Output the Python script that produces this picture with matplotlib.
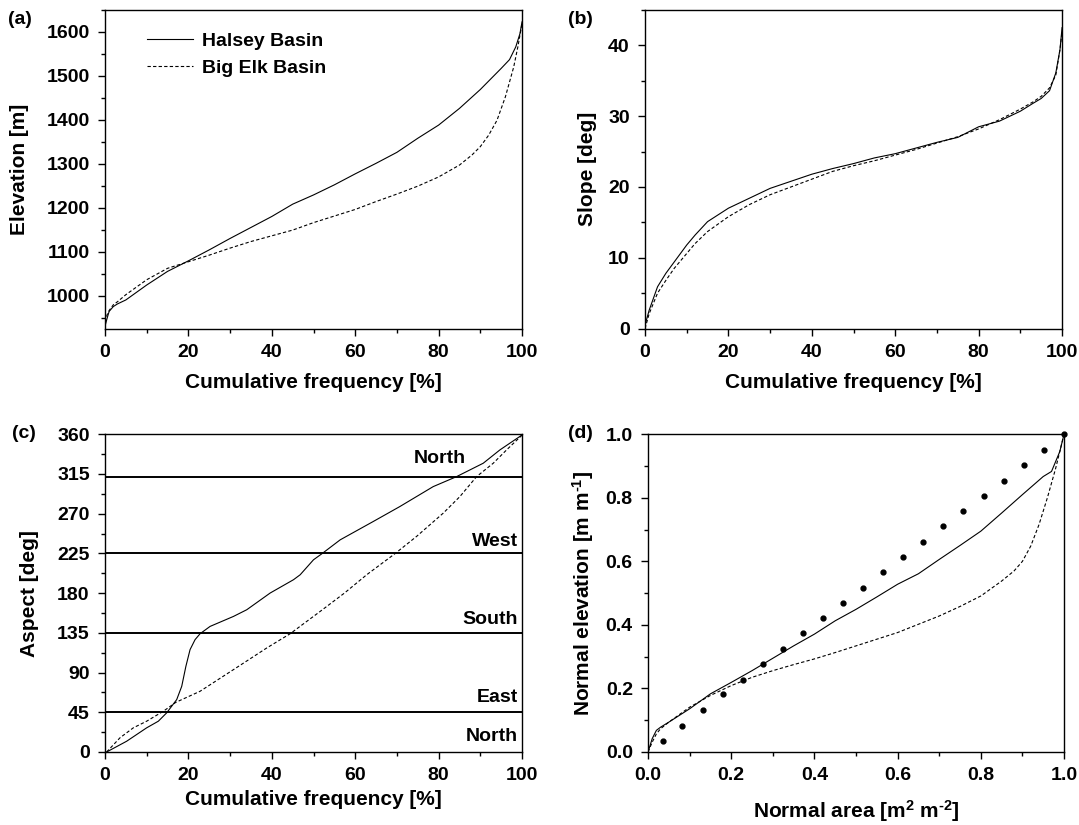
import matplotlib
matplotlib.use("Agg")
import matplotlib.pyplot as plt
from matplotlib.ticker import MultipleLocator

plt.rcParams['font.family'] = ['Liberation Sans', 'DejaVu Sans']
plt.rcParams['font.weight'] = 'bold'
plt.rcParams['axes.labelweight'] = 'bold'
plt.rcParams['mathtext.fontset'] = 'custom'
plt.rcParams['mathtext.rm'] = 'Liberation Sans:bold'
plt.rcParams['mathtext.bf'] = 'Liberation Sans:bold'
plt.rcParams['mathtext.default'] = 'bf'

# ---------------- data ----------------
# (a) elevation vs cumulative frequency
elev_x_halsey = [0, 0.5, 1, 2, 3, 5, 10, 15, 20, 25, 30, 35, 40, 45, 50, 55, 60, 65, 70,
                 75, 80, 85, 90, 95, 97, 98.5, 99.5, 100]
elev_halsey = [930, 948, 964, 975, 981, 990, 1024, 1055, 1079, 1104, 1130, 1155, 1180, 1208,
               1229, 1252, 1277, 1301, 1326, 1358, 1388, 1426, 1469, 1517, 1537, 1566, 1596, 1623]
elev_x_bigelk = [0, 0.5, 1, 2, 3, 5, 10, 15, 20, 25, 30, 35, 40, 45, 50, 55, 60, 65, 70, 75,
                 80, 85, 88, 90, 92, 94, 96, 98, 99, 100]
elev_bigelk = [940, 956, 966, 979, 986, 1002, 1036, 1062, 1077, 1092, 1108, 1123, 1136, 1149,
               1166, 1181, 1196, 1214, 1231, 1249, 1270, 1297, 1320, 1339, 1365, 1399, 1452,
               1520, 1566, 1619]

# (b) slope vs cumulative frequency
slope_x = [0, 1, 3, 5, 7, 10, 12, 15, 20, 25, 30, 35, 40, 45, 50, 55, 60, 65, 70, 75, 80,
           85, 90, 93, 95, 97, 98.5, 99.5, 100]
slope_halsey = [0.5, 2.6, 5.9, 7.8, 9.4, 11.8, 13.2, 15.1, 17.0, 18.4, 19.8, 20.8, 21.8, 22.6,
                23.3, 24.1, 24.7, 25.5, 26.3, 27.0, 28.5, 29.3, 30.7, 31.8, 32.5, 33.6, 36.1,
                39.4, 42.5]
slope_bigelk = [0, 2.1, 5.0, 6.8, 8.5, 10.6, 12.0, 13.7, 15.8, 17.5, 18.9, 20.0, 21.1, 22.2,
                23.0, 23.7, 24.5, 25.3, 26.2, 27.1, 28.2, 29.5, 31.0, 32.0, 32.8, 34.0, 35.8,
                39.4, 42.0]

# (c) aspect vs cumulative frequency
asp_x_halsey = [0.4, 5.2, 10.0, 12.8, 14.8, 17.2, 18.4, 19.4, 20.4, 21.6, 22.8, 25.2, 30.8,
                34.0, 39.6, 45.2, 46.8, 50.0, 52.0, 56.4, 64.3, 70.7, 78.7, 84.3, 90.7, 94.7, 100]
asp_halsey = [0, 12.2, 27.4, 34.9, 44.4, 59.4, 74.4, 97.1, 116, 127.3, 134, 142.3, 153.6,
              161.2, 180.1, 195.2, 200.8, 217.8, 224.6, 240.4, 261.1, 278.1, 300.7, 312,
              327.2, 342.3, 359.2]
asp_x_bigelk = [0.4, 3.6, 6.8, 10.0, 14.0, 17.0, 22.8, 30.8, 38.8, 44.4, 51.6, 57.4, 62.8,
                69.5, 74.7, 81.1, 85.1, 89.1, 93.1, 96.3, 100]
asp_bigelk = [0, 16.1, 27.4, 34.9, 46.2, 56.3, 68.8, 93.3, 117.9, 134, 159.3, 180, 201,
              224.6, 244.2, 270.6, 289.4, 312, 327.2, 342.3, 359]
dir_lines = [45, 135, 225, 311.5]
dir_names = ['North', 'East', 'South', 'West']
dir_name_y = [18, 62, 150, 239]

# (d) hypsometric curves
hyp_x = [0, 0.005, 0.01, 0.02, 0.03, 0.05, 0.1, 0.15, 0.2, 0.25, 0.3, 0.35, 0.4, 0.45, 0.5,
         0.55, 0.6, 0.65, 0.7, 0.75, 0.8, 0.85, 0.9, 0.95, 0.97, 0.99, 1.0]
hyp_halsey = [0, 0.021, 0.042, 0.068, 0.078, 0.094, 0.136, 0.183, 0.219, 0.256, 0.295, 0.334,
              0.371, 0.413, 0.449, 0.488, 0.528, 0.561, 0.606, 0.65, 0.695, 0.752, 0.81, 0.867,
              0.883, 0.946, 1.0]
hyp_x_bigelk = [0, 0.01, 0.02, 0.03, 0.05, 0.1, 0.15, 0.2, 0.25, 0.3, 0.35, 0.4, 0.45, 0.5,
                0.55, 0.6, 0.65, 0.7, 0.75, 0.8, 0.85, 0.88, 0.9, 0.92, 0.94, 0.96, 0.98, 1.0]
hyp_bigelk = [0, 0.031, 0.057, 0.073, 0.094, 0.141, 0.178, 0.209, 0.235, 0.256, 0.275, 0.293,
              0.313, 0.334, 0.355, 0.376, 0.402, 0.428, 0.458, 0.491, 0.538, 0.57, 0.60, 0.648,
              0.716, 0.80, 0.893, 1.0]
dots_x = [0.0355, 0.0825, 0.131, 0.18, 0.228, 0.276, 0.325, 0.372, 0.421, 0.469, 0.517,
          0.565, 0.614, 0.662, 0.71, 0.758, 0.807, 0.855, 0.903, 0.951, 1.0]
dots_y = [0.0345, 0.0825, 0.132, 0.181, 0.228, 0.276, 0.324, 0.373, 0.421, 0.468, 0.517,
          0.566, 0.613, 0.661, 0.71, 0.758, 0.807, 0.854, 0.903, 0.951, 1.0]

DASH = (0, (3, 2))
LW = 0.8
TICKFS = 14
LABFS = 15


def style_axis(ax):
    for sp in ax.spines.values():
        sp.set_linewidth(1.0)
    ax.tick_params(which='both', direction='out', top=False, right=False,
                   labelsize=TICKFS, width=1.0)
    ax.tick_params(which='major', length=5, pad=6)
    ax.tick_params(which='minor', length=3)


fig = plt.figure(figsize=(10.79, 8.25), dpi=100)
ax_a = fig.add_axes([0.0973, 0.6018, 0.3865, 0.3861])
ax_b = fig.add_axes([0.5978, 0.6018, 0.3865, 0.3861])
ax_c = fig.add_axes([0.0973, 0.0885, 0.3865, 0.3851])
ax_d = fig.add_axes([0.6006, 0.0885, 0.3855, 0.3851])

# (a)
ax_a.plot(elev_x_halsey, elev_halsey, color='black', lw=LW, label='Halsey Basin')
ax_a.plot(elev_x_bigelk, elev_bigelk, color='black', lw=LW, ls=DASH, label='Big Elk Basin')
ax_a.set_xlim(0, 100)
ax_a.set_ylim(925, 1650)
ax_a.xaxis.set_major_locator(MultipleLocator(20))
ax_a.xaxis.set_minor_locator(MultipleLocator(10))
ax_a.yaxis.set_major_locator(MultipleLocator(100))
ax_a.yaxis.set_minor_locator(MultipleLocator(50))
ax_a.set_xlabel('Cumulative frequency [%]', fontsize=LABFS)
ax_a.set_ylabel('Elevation [m]', fontsize=LABFS)
ax_a.legend(loc='upper left', bbox_to_anchor=(0.1, 0.93), frameon=False, fontsize=TICKFS,
            handlelength=2.4, handletextpad=0.45, labelspacing=0.5, borderpad=0,
            borderaxespad=0)

# (b)
ax_b.plot(slope_x, slope_halsey, color='black', lw=LW)
ax_b.plot(slope_x, slope_bigelk, color='black', lw=LW, ls=DASH)
ax_b.set_xlim(0, 100)
ax_b.set_ylim(0, 45)
ax_b.xaxis.set_major_locator(MultipleLocator(20))
ax_b.xaxis.set_minor_locator(MultipleLocator(10))
ax_b.yaxis.set_major_locator(MultipleLocator(10))
ax_b.yaxis.set_minor_locator(MultipleLocator(5))
ax_b.set_xlabel('Cumulative frequency [%]', fontsize=LABFS)
ax_b.set_ylabel('Slope [deg]', fontsize=LABFS)

# (c)
ax_c.plot(asp_x_halsey, asp_halsey, color='black', lw=LW)
ax_c.plot(asp_x_bigelk, asp_bigelk, color='black', lw=LW, ls=DASH)
for yv in dir_lines:
    ax_c.axhline(yv, color='black', lw=1.4)
for name, yv in zip(dir_names, dir_name_y):
    ax_c.text(99, yv, name, ha='right', va='center', fontsize=TICKFS, fontweight='bold')
ax_c.text(80.3, 332, 'North', ha='center', va='center', fontsize=TICKFS, fontweight='bold')
ax_c.set_xlim(0, 100)
ax_c.set_ylim(0, 360)
ax_c.xaxis.set_major_locator(MultipleLocator(20))
ax_c.xaxis.set_minor_locator(MultipleLocator(10))
ax_c.yaxis.set_major_locator(MultipleLocator(45))
ax_c.yaxis.set_minor_locator(MultipleLocator(22.5))
ax_c.set_xlabel('Cumulative frequency [%]', fontsize=LABFS)
ax_c.set_ylabel('Aspect [deg]', fontsize=LABFS)

# (d)
ax_d.plot(hyp_x, hyp_halsey, color='black', lw=LW)
ax_d.plot(hyp_x_bigelk, hyp_bigelk, color='black', lw=LW, ls=DASH)
ax_d.plot(dots_x, dots_y, 'o', color='black', ms=3.5, clip_on=False)
ax_d.set_xlim(0, 1)
ax_d.set_ylim(0, 1)
ax_d.xaxis.set_major_locator(MultipleLocator(0.2))
ax_d.xaxis.set_minor_locator(MultipleLocator(0.1))
ax_d.yaxis.set_major_locator(MultipleLocator(0.2))
ax_d.yaxis.set_minor_locator(MultipleLocator(0.1))
ax_d.set_xlabel(r'Normal area [m$^{2}$ m$^{\text{-}2}$]', fontsize=LABFS)
ax_d.set_ylabel(r'Normal elevation [m m$^{\text{-}1}$]', fontsize=LABFS)

for ax in (ax_a, ax_b, ax_c, ax_d):
    style_axis(ax)

# label positions
ax_a.xaxis.set_label_coords(0.5, -0.171)
ax_b.xaxis.set_label_coords(0.5, -0.171)
ax_c.xaxis.set_label_coords(0.5, -0.151)
ax_d.xaxis.set_label_coords(0.5, -0.186)
ax_a.yaxis.set_label_coords(-0.204, 0.5)
ax_b.yaxis.set_label_coords(-0.137, 0.5)
ax_c.yaxis.set_label_coords(-0.182, 0.5)
ax_d.yaxis.set_label_coords(-0.156, 0.5)
for ax in (ax_a, ax_b, ax_c, ax_d):
    ax.xaxis.label.set_va('center')
    ax.yaxis.label.set_va('center')

# panel letters
fig.text(8 / 1079, 1 - 20 / 825, '(a)', fontsize=14, fontweight='bold', va='center')
fig.text(568 / 1079, 1 - 20 / 825, '(b)', fontsize=14, fontweight='bold', va='center')
fig.text(12 / 1079, 1 - 434 / 825, '(c)', fontsize=14, fontweight='bold', va='center')
fig.text(568 / 1079, 1 - 434 / 825, '(d)', fontsize=14, fontweight='bold', va='center')

fig.savefig('out.png', dpi=100)
